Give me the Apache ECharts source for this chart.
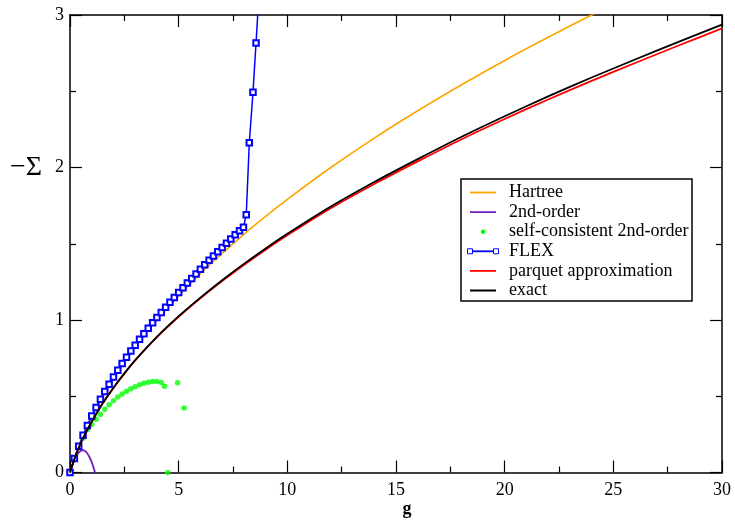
<!DOCTYPE html>
<html>
<head>
<meta charset="utf-8">
<script src="https://cdn.jsdelivr.net/npm/echarts@6/dist/echarts.min.js"></script>
<style>html,body{margin:0;padding:0;background:#fff;}#c{width:735px;height:523px;}</style>
</head>
<body>
<div id="c"></div>
<script>
// ---- data ----
const seriesNames = ['Hartree', '2nd-order', 'self-consistent 2nd-order', 'FLEX', 'parquet approximation', 'exact'];

const hartreeG = [0, 0.25, 0.5, 0.75, 1, 1.5, 2, 2.5, 3, 4, 5, 6, 7, 8, 9, 10, 12, 14, 16, 18, 20, 22, 24, 25];
const hartreeV = [0, 0.112, 0.207, 0.291, 0.366, 0.5, 0.618, 0.725, 0.823, 1.0, 1.158, 1.303, 1.436, 1.562, 1.679, 1.791, 2.0, 2.193, 2.372, 2.541, 2.702, 2.854, 3.0, 3.071];

const secondG = [0, 0.1, 0.2, 0.3, 0.4, 0.5, 0.6, 0.7, 0.8, 0.9, 1.0, 1.1, 1.15, 1.25];
const secondV = [0, 0.045, 0.082, 0.11, 0.13, 0.143, 0.146, 0.14, 0.125, 0.1, 0.068, 0.025, 0.0, -0.05];

const scG = [0, 0.2, 0.4, 0.6, 0.8, 1.0, 1.2, 1.4, 1.6, 1.8, 2.0, 2.2, 2.4, 2.6, 2.8, 3.0, 3.2, 3.4, 3.6, 3.8, 4.0, 4.2, 4.35, 4.5, 4.95, 5.25];
const scV = [0, 0.09, 0.165, 0.225, 0.28, 0.315, 0.35, 0.38, 0.415, 0.445, 0.47, 0.495, 0.515, 0.533, 0.55, 0.563, 0.575, 0.585, 0.592, 0.597, 0.597, 0.59, 0.565, 0.0, 0.588, 0.423];

const flexG = [0, 0.2, 0.4, 0.6, 0.8, 1.0, 1.2, 1.4, 1.6, 1.8, 2.0, 2.2, 2.4, 2.6, 2.8, 3.0, 3.2, 3.4, 3.6, 3.8, 4.0, 4.2, 4.4, 4.6, 4.8, 5.0, 5.2, 5.4, 5.6, 5.8, 6.0, 6.2, 6.4, 6.6, 6.8, 7.0, 7.2, 7.4, 7.6, 7.8, 7.98, 8.11, 8.25, 8.42, 8.56, 8.70];
const flexV = [0, 0.092, 0.172, 0.244, 0.309, 0.370, 0.427, 0.480, 0.531, 0.579, 0.626, 0.671, 0.714, 0.755, 0.796, 0.835, 0.873, 0.910, 0.946, 0.982, 1.016, 1.050, 1.083, 1.116, 1.148, 1.180, 1.211, 1.242, 1.272, 1.302, 1.333, 1.362, 1.391, 1.420, 1.448, 1.476, 1.504, 1.531, 1.559, 1.586, 1.609, 1.690, 2.162, 2.493, 2.816, 3.15];

const exactG = [0, 0.25, 0.5, 0.75, 1, 1.5, 2, 2.5, 3, 4, 5, 6, 7, 8, 9, 10, 12, 14, 16, 18, 20, 22, 24, 26, 28, 30];
const exactV = [0, 0.107, 0.195, 0.267, 0.333, 0.452, 0.556, 0.650, 0.737, 0.890, 1.025, 1.147, 1.261, 1.368, 1.469, 1.565, 1.744, 1.905, 2.055, 2.200, 2.336, 2.466, 2.590, 2.708, 2.824, 2.937];
const parquetV = [0, 0.107, 0.195, 0.267, 0.333, 0.452, 0.555, 0.648, 0.735, 0.887, 1.021, 1.142, 1.255, 1.361, 1.461, 1.556, 1.733, 1.892, 2.040, 2.184, 2.318, 2.446, 2.568, 2.685, 2.800, 2.912];

const xTicks = [0, 5, 10, 15, 20, 25, 30];
const yTicks = [0, 1, 2, 3];

// ---- build ----
const zip = (a, b) => a.map((v, i) => [v, b[i]]);
const FONT = '"Liberation Serif", "DejaVu Serif", serif';
const colors = ['#FFA500', '#7221BC', '#00FF00', '#0000FF', '#FF0000', '#000000'];

const chart = echarts.init(document.getElementById('c'), null, {renderer: 'canvas'});

const axisCommon = {
  type: 'value',
  axisLine: {show: true, onZero: false, lineStyle: {color: '#000', width: 1.5}},
  axisTick: {show: true, inside: true, length: 12, lineStyle: {color: '#000', width: 1.2}},
  minorTick: {show: true, splitNumber: 2, length: 6, lineStyle: {color: '#000', width: 1.2}},
  splitLine: {show: false},
  minorSplitLine: {show: false}
};

const legendGraphic = [];
const LX = 461, LY = 179, LW = 231, LH = 122, ROW0 = 192.5, ROWH = 19.6;
legendGraphic.push({type: 'rect', shape: {x: LX, y: LY, width: LW, height: LH},
  style: {fill: '#fff', stroke: '#000', lineWidth: 1.5}, z: 100});
seriesNames.forEach((name, i) => {
  const y = ROW0 + i * ROWH;
  if (i === 2) {
    legendGraphic.push({type: 'circle', shape: {cx: 483, cy: y, r: 2.3}, style: {fill: colors[i]}, z: 101});
  } else {
    legendGraphic.push({type: 'line', shape: {x1: 470, y1: y, x2: 496, y2: y},
      style: {stroke: colors[i], lineWidth: i === 5 ? 2 : 1.8}, z: 101});
    if (i === 3) {
      [470, 496].forEach(cx => legendGraphic.push({type: 'rect', shape: {x: cx - 2.5, y: y - 2.5, width: 5, height: 5},
        style: {fill: '#fff', stroke: colors[i], lineWidth: 1}, z: 102}));
    }
  }
  legendGraphic.push({type: 'text', x: 509, y: y,
    style: {text: name, font: '18px ' + FONT, fill: '#000', verticalAlign: 'middle', align: 'left'}, z: 101});
});

const option = {
  backgroundColor: '#fff',
  animation: false,
  grid: {left: 70, right: 13, top: 15, bottom: 50.5, containLabel: false},
  xAxis: [
    Object.assign({}, axisCommon, {min: 0, max: 30, interval: 5, position: 'bottom',
      axisLabel: {show: true, margin: 9, color: '#000', fontSize: 18, fontFamily: FONT,
        customValues: xTicks}}),
    Object.assign({}, axisCommon, {min: 0, max: 30, interval: 5, position: 'top', axisLabel: {show: false}})
  ],
  yAxis: [
    Object.assign({}, axisCommon, {min: 0, max: 3, interval: 1, position: 'left',
      axisLabel: {show: true, margin: 6, color: '#000', fontSize: 18, fontFamily: FONT,
        customValues: yTicks}}),
    Object.assign({}, axisCommon, {min: 0, max: 3, interval: 1, position: 'right', axisLabel: {show: false}})
  ],
  series: [
    {name: seriesNames[0], type: 'line', data: zip(hartreeG, hartreeV), smooth: 0.3, showSymbol: false,
      lineStyle: {color: colors[0], width: 1.6}, itemStyle: {color: colors[0]}, z: 2},
    {name: seriesNames[1], type: 'line', data: zip(secondG, secondV), smooth: 0.3, showSymbol: false,
      lineStyle: {color: colors[1], width: 1.8}, itemStyle: {color: colors[1]}, z: 3},
    {name: seriesNames[2], type: 'scatter', data: zip(scG, scV), symbol: 'circle', symbolSize: 5.5,
      itemStyle: {color: colors[2]}, z: 4},
    {name: seriesNames[3], type: 'line', data: zip(flexG, flexV), symbol: 'emptyRect', symbolSize: 5.5, showSymbol: true,
      showAllSymbol: true,
      lineStyle: {color: colors[3], width: 1.5}, itemStyle: {color: colors[3], borderWidth: 1}, z: 5},
    {name: seriesNames[4], type: 'line', data: zip(exactG, parquetV), smooth: 0.3, showSymbol: false,
      lineStyle: {color: colors[4], width: 1.8}, itemStyle: {color: colors[4]}, z: 6},
    {name: seriesNames[5], type: 'line', data: zip(exactG, exactV), smooth: 0.3, showSymbol: false,
      lineStyle: {color: colors[5], width: 1.8}, itemStyle: {color: colors[5]}, z: 7}
  ],
  graphic: [
    {type: 'text', x: 10, y: 168, style: {text: '\u2212\u03A3', font: '28px ' + FONT, fill: '#000', verticalAlign: 'middle', align: 'left'}},
    {type: 'text', x: 407, y: 509, style: {text: 'g', font: 'bold 18px ' + FONT, fill: '#000', verticalAlign: 'middle', align: 'center'}}
  ].concat(legendGraphic)
};
chart.setOption(option);
</script>
</body>
</html>
